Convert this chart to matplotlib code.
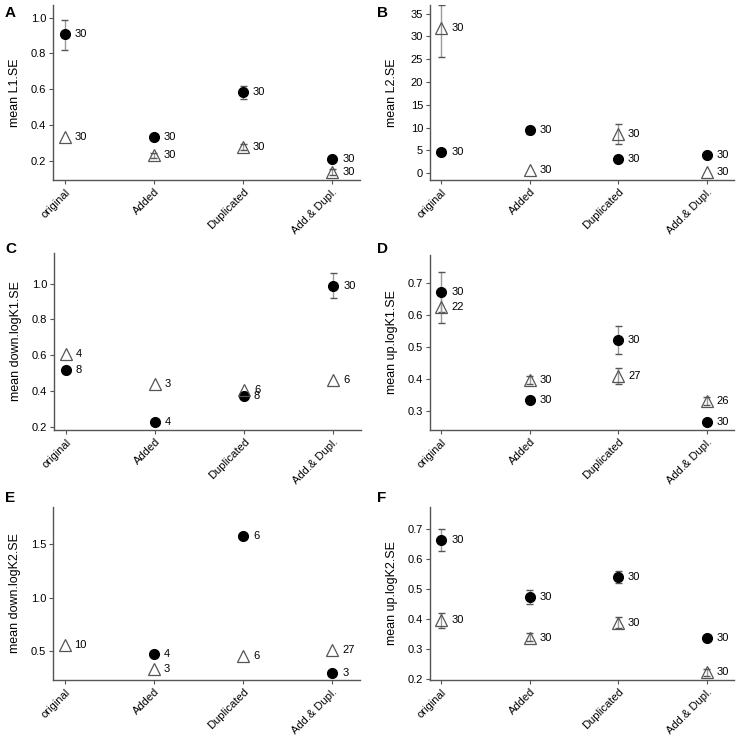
import numpy as np
import matplotlib
matplotlib.use('Agg')
import matplotlib.pyplot as plt

plt.rcParams['font.family'] = ['Liberation Sans', 'DejaVu Sans']

nan = np.nan
categorias = ['original', 'Added', 'Duplicated', 'Add.& Dupl.']

# --- Panel A: L1.SE ---
a_circ = [0.907, 0.337, 0.583, 0.211]
a_circ_lo = [0.82, nan, 0.545, nan]
a_circ_hi = [0.985, nan, 0.62, nan]
a_circ_n = ['30', '30', '30', '30']
a_tri = [0.333, 0.233, 0.278, 0.14]
a_tri_lo = [nan, 0.22, 0.26, 0.125]
a_tri_hi = [nan, 0.245, 0.295, 0.155]
a_tri_n = ['30', '30', '30', '30']

# --- Panel B: L2.SE ---
b_circ = [4.7, 9.4, 3.2, 4.0]
b_circ_lo = [nan, 8.6, nan, nan]
b_circ_hi = [nan, 10.2, nan, nan]
b_circ_n = ['30', '30', '30', '30']
b_tri = [31.8, 0.7, 8.6, 0.2]
b_tri_lo = [25.5, nan, 6.3, nan]
b_tri_hi = [36.8, nan, 10.8, nan]
b_tri_n = ['30', '30', '30', '30']

# --- Panel C: down.logK1.SE ---
c_circ = [0.519, 0.228, 0.376, 0.987]
c_circ_lo = [nan, nan, nan, 0.92]
c_circ_hi = [nan, nan, nan, 1.06]
c_circ_n = ['8', '4', '8', '30']
c_tri = [0.608, 0.441, 0.408, 0.464]
c_tri_lo = [nan, nan, nan, nan]
c_tri_hi = [nan, nan, nan, nan]
c_tri_n = ['4', '3', '6', '6']

# --- Panel D: up.logK1.SE ---
d_circ = [0.672, 0.334, 0.522, 0.264]
d_circ_lo = [0.61, nan, 0.478, nan]
d_circ_hi = [0.737, nan, 0.565, nan]
d_circ_n = ['30', '30', '30', '30']
d_tri = [0.627, 0.397, 0.41, 0.33]
d_tri_lo = [0.574, 0.385, 0.385, 0.318]
d_tri_hi = [0.665, 0.41, 0.435, 0.342]
d_tri_n = ['22', '30', '27', '26']

# --- Panel E: down.logK2.SE ---
e_circ = [nan, 0.472, 1.584, 0.297]
e_circ_lo = [nan, nan, nan, nan]
e_circ_hi = [nan, nan, nan, nan]
e_circ_n = [None, '4', '6', '3']
e_tri = [0.556, 0.328, 0.456, 0.509]
e_tri_lo = [nan, nan, nan, nan]
e_tri_hi = [nan, nan, nan, nan]
e_tri_n = ['10', '3', '6', '27']

# --- Panel F: up.logK2.SE ---
f_circ = [0.661, 0.472, 0.54, 0.337]
f_circ_lo = [0.626, 0.45, 0.52, nan]
f_circ_hi = [0.698, 0.495, 0.56, nan]
f_circ_n = ['30', '30', '30', '30']
f_tri = [0.396, 0.338, 0.387, 0.222]
f_tri_lo = [0.37, 0.325, 0.37, 0.21]
f_tri_hi = [0.42, 0.352, 0.405, 0.235]
f_tri_n = ['30', '30', '30', '30']

paneles = [
    ('A', 'mean L1.SE', a_circ, a_circ_lo, a_circ_hi, a_circ_n, a_tri, a_tri_lo, a_tri_hi, a_tri_n,
     [0.2, 0.4, 0.6, 0.8, 1.0], '%.1f', (0.095, 1.07)),
    ('B', 'mean L2.SE', b_circ, b_circ_lo, b_circ_hi, b_circ_n, b_tri, b_tri_lo, b_tri_hi, b_tri_n,
     [0, 5, 10, 15, 20, 25, 30, 35], '%d', (-1.5, 36.9)),
    ('C', 'mean down.logK1.SE', c_circ, c_circ_lo, c_circ_hi, c_circ_n, c_tri, c_tri_lo, c_tri_hi, c_tri_n,
     [0.2, 0.4, 0.6, 0.8, 1.0], '%.1f', (0.185, 1.17)),
    ('D', 'mean up.logK1.SE', d_circ, d_circ_lo, d_circ_hi, d_circ_n, d_tri, d_tri_lo, d_tri_hi, d_tri_n,
     [0.3, 0.4, 0.5, 0.6, 0.7], '%.1f', (0.239, 0.789)),
    ('E', 'mean down.logK2.SE', e_circ, e_circ_lo, e_circ_hi, e_circ_n, e_tri, e_tri_lo, e_tri_hi, e_tri_n,
     [0.5, 1.0, 1.5], '%.1f', (0.228, 1.852)),
    ('F', 'mean up.logK2.SE', f_circ, f_circ_lo, f_circ_hi, f_circ_n, f_tri, f_tri_lo, f_tri_hi, f_tri_n,
     [0.2, 0.3, 0.4, 0.5, 0.6, 0.7], '%.1f', (0.197, 0.772)),
]

# posiciones de los ejes en pixeles (izq, der, arriba, abajo)
W, H = 743, 737
cajas = [
    (53, 360, 5, 180), (430, 734, 5, 180),
    (54, 361, 253, 430), (430, 734, 255, 430),
    (53, 360, 507, 680), (430, 734, 507, 680),
]
letras_pos = [(5, 13), (377, 13), (5, 249), (377, 249), (5, 498), (377, 498)]

fig = plt.figure(figsize=(W / 100, H / 100), dpi=100)
x = np.arange(1, 5)


def barras(ax, xs, lo, hi):
    lo = np.array(lo, dtype=float)
    hi = np.array(hi, dtype=float)
    ok = ~np.isnan(lo)
    if not ok.any():
        return
    ax.vlines(xs[ok], lo[ok], hi[ok], color='#9a9a9a', lw=1.0, zorder=2)
    ax.hlines(lo[ok], xs[ok] - 0.04, xs[ok] + 0.04, color='#555555', lw=1.0, zorder=2)
    ax.hlines(hi[ok], xs[ok] - 0.04, xs[ok] + 0.04, color='#555555', lw=1.0, zorder=2)


for i, p in enumerate(paneles):
    (letra, ylab, circ, circ_lo, circ_hi, circ_n, tri, tri_lo, tri_hi, tri_n,
     yticks, fmt, ylim) = p
    l, r, t, b = cajas[i]
    ax = fig.add_axes([l / W, 1 - b / H, (r - l) / W, (b - t) / H])

    barras(ax, x, circ_lo, circ_hi)
    barras(ax, x, tri_lo, tri_hi)
    ax.plot(x, circ, 'o', color='black', markersize=7, zorder=3)
    ax.plot(x, tri, '^', markerfacecolor='none', markeredgecolor='#555555',
            markeredgewidth=0.9, markersize=8, zorder=3)

    for xi, v, n in zip(x, circ, circ_n):
        if n is not None and not np.isnan(v):
            ax.text(xi + 0.11, v, n, va='center', ha='left', fontsize=8)
    for xi, v, n in zip(x, tri, tri_n):
        if n is not None and not np.isnan(v):
            ax.text(xi + 0.11, v, n, va='center', ha='left', fontsize=8)

    ax.set_xlim(0.87, 4.31)
    ax.set_ylim(*ylim)
    ax.set_xticks(x)
    ax.set_xticklabels(categorias, rotation=45, ha='right', rotation_mode='anchor', fontsize=8)
    ax.set_yticks(yticks)
    ax.set_yticklabels([fmt % v for v in yticks], fontsize=8)
    ax.tick_params(length=3, width=0.8, color='#555555', pad=2)
    for s in ['top', 'right']:
        ax.spines[s].set_visible(False)
    for s in ['left', 'bottom']:
        ax.spines[s].set_color('#555555')
        ax.spines[s].set_linewidth(1.0)
    ax.set_ylabel(ylab, fontsize=9)
    ax.yaxis.set_label_coords(-0.105, 0.5)

    lx, ly = letras_pos[i]
    fig.text(lx / W, 1 - ly / H, letra, fontsize=11, fontweight='bold', ha='left', va='center')

plt.savefig('out.png', dpi=100)
